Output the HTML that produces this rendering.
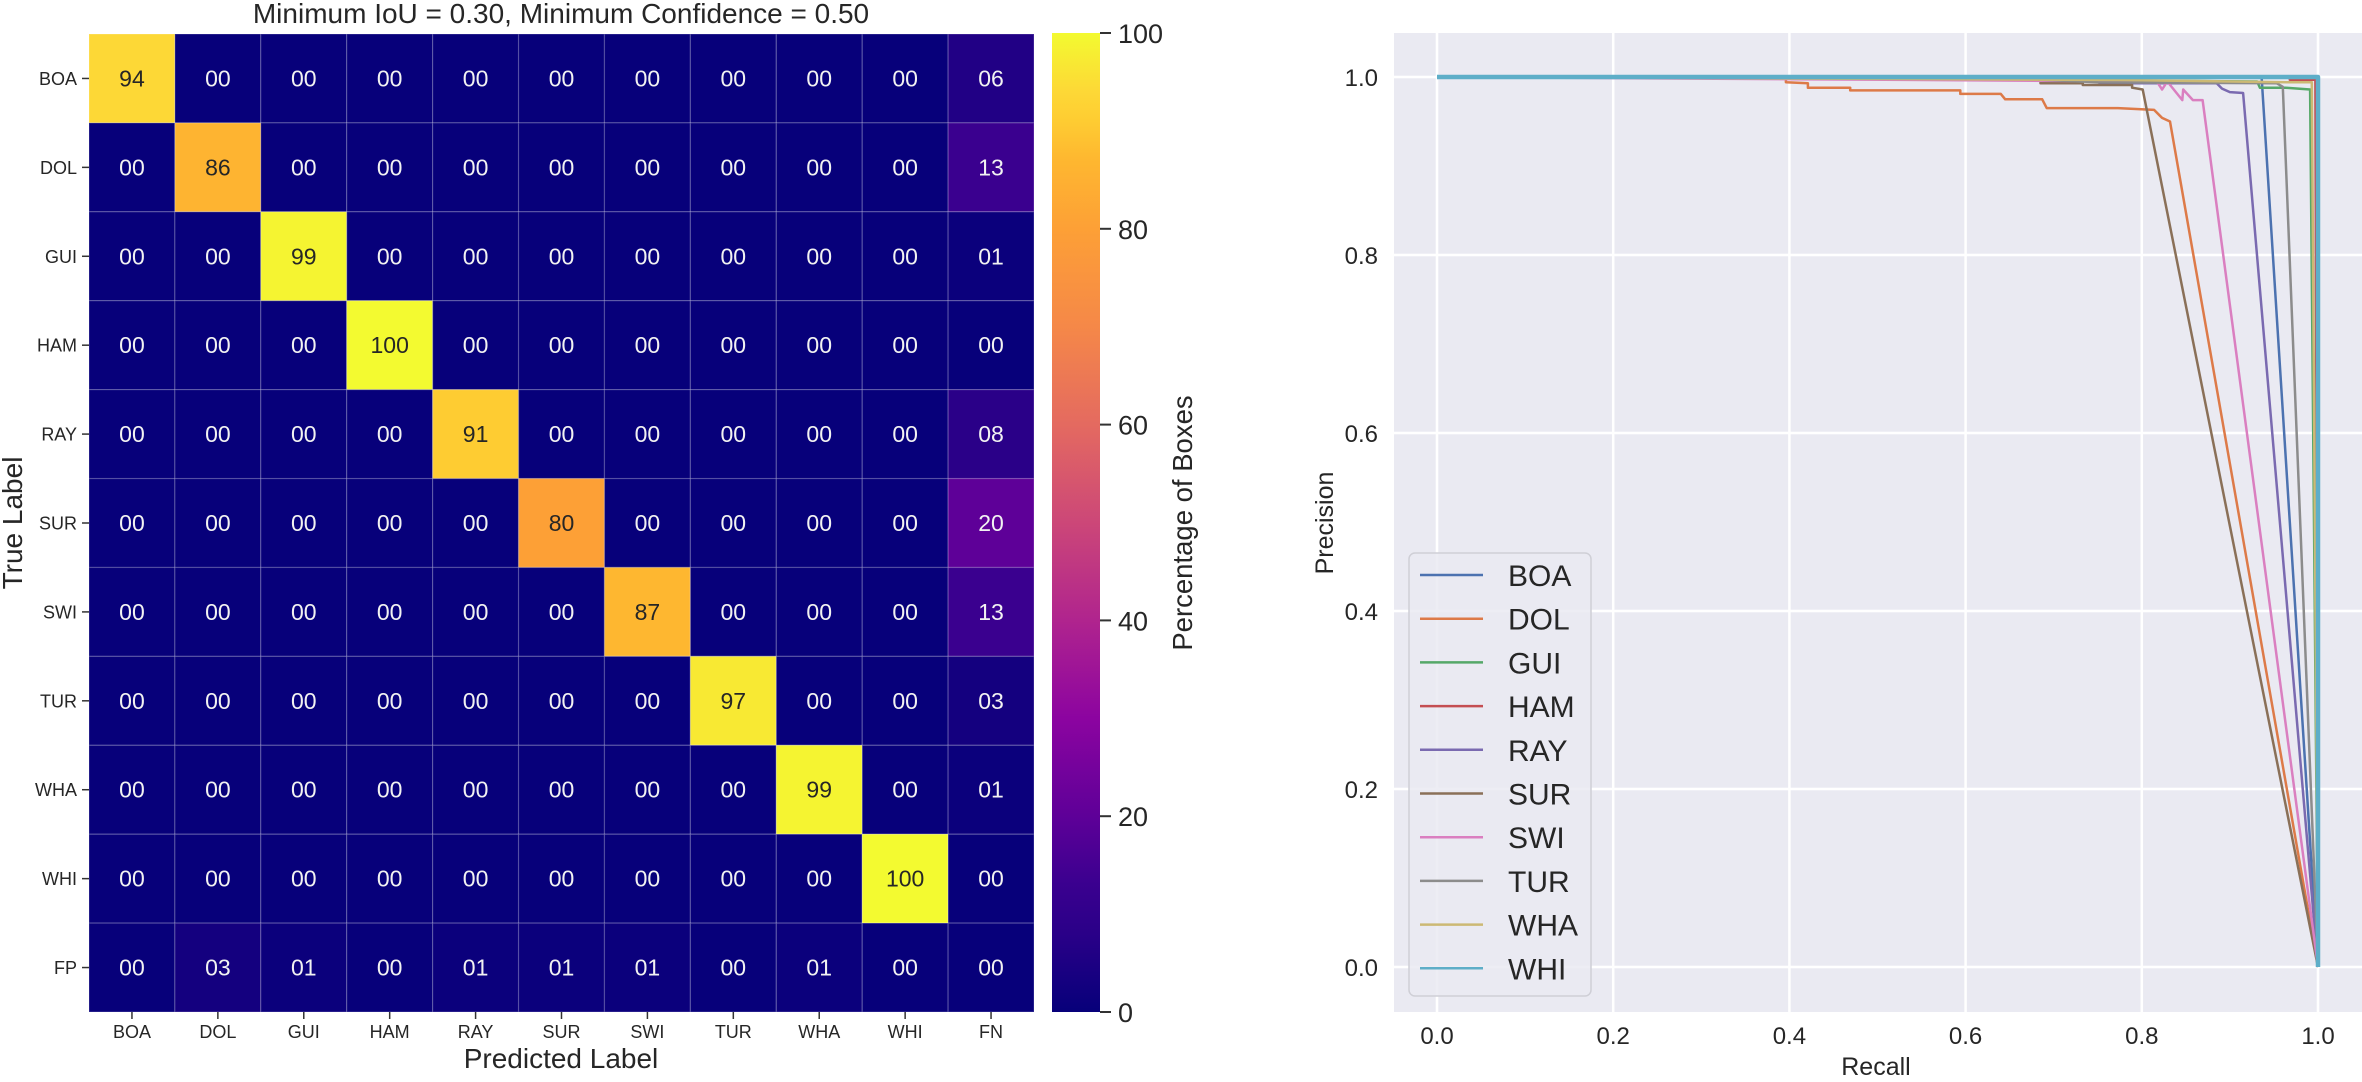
<!DOCTYPE html>
<html>
<head>
<meta charset="utf-8">
<title>Confusion matrix and precision-recall curves</title>
<style>
html,body{margin:0;padding:0;background:#fff;}
svg{display:block;font-family:"Liberation Sans",sans-serif;}
text{fill:#262626;}
</style>
</head>
<body>
<svg id="figure" width="2362" height="1082" viewBox="0 0 2362 1082" xmlns="http://www.w3.org/2000/svg">
  <defs>
    <linearGradient id="plasma-gradient" x1="0" y1="1" x2="0" y2="0"></linearGradient>
  </defs>
  <text x="561" y="23" font-size="28" text-anchor="middle">Minimum IoU = 0.30, Minimum Confidence = 0.50</text>
  <g id="heatmap"></g>
  <text x="561" y="1068" font-size="28" text-anchor="middle">Predicted Label</text>
  <text transform="translate(22,523) rotate(-90)" font-size="28" text-anchor="middle">True Label</text>
  <g id="colorbar"></g>
  <text transform="translate(1192,523) rotate(-90)" font-size="27.5" text-anchor="middle">Percentage of Boxes</text>
  <g id="pr"></g>
  <text x="1876" y="1075" font-size="25" text-anchor="middle">Recall</text>
  <text transform="translate(1333,523) rotate(-90)" font-size="25" text-anchor="middle">Precision</text>
</svg>
<script>
// ---- confusion matrix data ----
const rowLabels = ["BOA","DOL","GUI","HAM","RAY","SUR","SWI","TUR","WHA","WHI","FP"];
const colLabels = ["BOA","DOL","GUI","HAM","RAY","SUR","SWI","TUR","WHA","WHI","FN"];
const rowBOA = [94,0,0,0,0,0,0,0,0,0,6];
const rowDOL = [0,86,0,0,0,0,0,0,0,0,13];
const rowGUI = [0,0,99,0,0,0,0,0,0,0,1];
const rowHAM = [0,0,0,100,0,0,0,0,0,0,0];
const rowRAY = [0,0,0,0,91,0,0,0,0,0,8];
const rowSUR = [0,0,0,0,0,80,0,0,0,0,20];
const rowSWI = [0,0,0,0,0,0,87,0,0,0,13];
const rowTUR = [0,0,0,0,0,0,0,97,0,0,3];
const rowWHA = [0,0,0,0,0,0,0,0,99,0,1];
const rowWHI = [0,0,0,0,0,0,0,0,0,100,0];
const rowFP  = [0,3,1,0,1,1,1,0,1,0,0];
const colorbarTicks = [0,20,40,60,80,100];

// ---- precision-recall data ----
const seriesNames = ["BOA","DOL","GUI","HAM","RAY","SUR","SWI","TUR","WHA","WHI"];
const recallBOA = [0,0.936,1];
const precisionBOA = [1,1,0];
const recallDOL = [0,0.396,0.396,0.421,0.421,0.469,0.469,0.594,0.594,0.640,0.645,0.687,0.692,0.773,0.814,0.823,0.832,1];
const precisionDOL = [1,1,0.994,0.993,0.988,0.988,0.985,0.985,0.981,0.981,0.975,0.975,0.965,0.965,0.963,0.954,0.950,0];
const recallGUI = [0,0.55,0.931,0.934,0.963,0.991,1];
const precisionGUI = [1,0.998,0.995,0.988,0.988,0.986,0];
const recallHAM = [0,0.968,0.968,0.997,1];
const precisionHAM = [1,1,0.997,0.997,0];
const recallRAY = [0,0.749,0.749,0.752,0.885,0.891,0.900,0.915,1];
const precisionRAY = [1,0.999,0.997,0.993,0.993,0.987,0.983,0.982,0];
const recallSUR = [0,0.429,0.429,0.660,0.685,0.685,0.733,0.733,0.789,0.789,0.801,1];
const precisionSUR = [1,1,0.998,0.997,0.996,0.993,0.993,0.991,0.991,0.988,0.986,0];
const recallSWI = [0,0.817,0.823,0.829,0.846,0.847,0.858,0.869,1];
const precisionSWI = [1,0.995,0.986,0.995,0.974,0.986,0.974,0.974,0];
const recallTUR = [0,0.660,0.750,0.953,0.960,1];
const precisionTUR = [1,0.998,0.994,0.993,0.989,0];
const recallWHA = [0,0.781,0.965,0.993,1];
const precisionWHA = [1,0.9966,0.994,0.994,0];
const recallWHI = [0,1,1];
const precisionWHI = [1,1,0];
const xTicks = [0,0.2,0.4,0.6,0.8,1.0];
const yTicks = [0,0.2,0.4,0.6,0.8,1.0];

const NS = "http://www.w3.org/2000/svg";
function mk(parent, tag, attrs, txt){
  const el = document.createElementNS(NS, tag);
  for (const k in attrs) el.setAttribute(k, attrs[k]);
  if (txt !== undefined) el.textContent = txt;
  parent.appendChild(el);
  return el;
}

// colour map (plasma-like, matched to the reference)
const cmStops = [
  [0,7,0,122],[0.08,42,0,136],[0.13,58,0,143],[0.2,94,0,152],[0.3,140,4,160],
  [0.4,176,36,142],[0.5,204,71,120],[0.6,228,106,96],[0.7,245,136,72],
  [0.8,253,160,54],[0.87,254,183,48],[0.91,254,204,50],[0.94,253,216,54],[1,243,250,48]
];
function cmap(t){
  t = Math.max(0, Math.min(1, t));
  for (let i = 1; i < cmStops.length; i++){
    if (t <= cmStops[i][0]){
      const a = cmStops[i-1], b = cmStops[i], f = (t-a[0])/(b[0]-a[0]);
      return "rgb(" + [1,2,3].map(j => Math.round(a[j]+(b[j]-a[j])*f)).join(",") + ")";
    }
  }
  return "rgb(243,250,48)";
}

// ---- heatmap axes ----
const hmLeft = 89, hmRight = 1034, hmTop = 34, hmBottom = 1012;
const hmX = i => hmLeft + (hmRight-hmLeft)*i/colLabels.length;
const hmY = i => hmTop + (hmBottom-hmTop)*i/rowLabels.length;
const matrix = [rowBOA,rowDOL,rowGUI,rowHAM,rowRAY,rowSUR,rowSWI,rowTUR,rowWHA,rowWHI,rowFP];
const hm = document.getElementById("heatmap");

matrix.forEach((row, r) => {
  row.forEach((v, c) => {
    const cell = mk(hm, "rect", {x:hmX(c), y:hmY(r), width:hmX(c+1)-hmX(c), height:hmY(r+1)-hmY(r), fill:cmap(v/100), stroke:"rgba(255,255,255,0.2)", "stroke-width":1.2});
    
    
    const label = mk(hm, "text", {x:(hmX(c)+hmX(c+1))/2, y:(hmY(r)+hmY(r+1))/2 + 8, "font-size":23, "text-anchor":"middle", style:"fill:" + (v > 50 ? "#262626" : "#f2f2f2")}, String(v).padStart(2,"0"));
    
    
  });
});
rowLabels.forEach((name, r) => {
  const cy = (hmY(r)+hmY(r+1))/2;
  const tick = mk(hm, "line", {x1:82, x2:hmLeft, y1:cy, y2:cy, stroke:"#333", "stroke-width":1.5});
  
  
  const label = mk(hm, "text", {x:77, y:cy+6.5, "font-size":18, "text-anchor":"end"}, name);
  
  
});
colLabels.forEach((name, c) => {
  const cx = (hmX(c)+hmX(c+1))/2;
  const tick = mk(hm, "line", {x1:cx, x2:cx, y1:hmBottom, y2:hmBottom+7, stroke:"#333", "stroke-width":1.5});
  
  
  const label = mk(hm, "text", {x:cx, y:1038, "font-size":18, "text-anchor":"middle"}, name);
  
  
});

// ---- colorbar ----
const cbLeft = 1052, cbRight = 1100, cbTop = 33, cbBottom = 1012;
const cbY = v => cbBottom - (cbBottom-cbTop)*v/100;
const grad = document.getElementById("plasma-gradient");
cmStops.forEach(s => {
  mk(grad, "stop", {offset:s[0], "stop-color":"rgb(" + s[1] + "," + s[2] + "," + s[3] + ")"});
});
const cb = document.getElementById("colorbar");
const cbRect = mk(cb, "rect", {x:cbLeft, y:cbTop, width:cbRight-cbLeft, height:cbBottom-cbTop, fill:"url(#plasma-gradient)"});


colorbarTicks.forEach(v => {
  const tick = mk(cb, "line", {x1:cbRight, x2:cbRight+11, y1:cbY(v), y2:cbY(v), stroke:"#333", "stroke-width":2});
  
  
  const label = mk(cb, "text", {x:1118, y:cbY(v)+10, "font-size":27}, String(v));
  
  
});

// ---- precision-recall axes ----
const prLeft = 1394, prRight = 2362, prTop = 33, prBottom = 1012;
const prX = r => 1437 + 881*r;
const prY = p => 967 - 890*p;
const pr = document.getElementById("pr");
const prBg = mk(pr, "rect", {x:prLeft, y:prTop, width:prRight-prLeft, height:prBottom-prTop, fill:"#eaeaf2"});


xTicks.forEach(v => {
  const g = mk(pr, "line", {x1:prX(v), x2:prX(v), y1:prTop, y2:prBottom, stroke:"#fff", "stroke-width":2.5});
  
  
  const label = mk(pr, "text", {x:prX(v), y:1044, "font-size":24, "text-anchor":"middle"}, v.toFixed(1));
  
  
});
yTicks.forEach(v => {
  const g = mk(pr, "line", {x1:prLeft, x2:prRight, y1:prY(v), y2:prY(v), stroke:"#fff", "stroke-width":2.5});
  
  
  const label = mk(pr, "text", {x:1378, y:prY(v)+9, "font-size":24, "text-anchor":"end"}, v.toFixed(1));
  
  
});

const seriesRecall = [recallBOA,recallDOL,recallGUI,recallHAM,recallRAY,recallSUR,recallSWI,recallTUR,recallWHA,recallWHI];
const seriesPrecision = [precisionBOA,precisionDOL,precisionGUI,precisionHAM,precisionRAY,precisionSUR,precisionSWI,precisionTUR,precisionWHA,precisionWHI];
const seriesColors = ["#4c72b0","#dd7a48","#55a868","#c44e52","#7a6ab0","#8a7058","#da7fc0","#8c8c8c","#ccb974","#5eaec8"];
const seriesWidths = [2.5,2.5,2.5,2.5,2.5,2.5,2.5,2.5,2.5,4.5];

seriesNames.forEach((name, i) => {
  const pts = seriesRecall[i].map((r, k) => prX(r).toFixed(1) + "," + prY(seriesPrecision[i][k]).toFixed(1)).join(" ");
  const line = mk(pr, "polyline", {points:pts, fill:"none", stroke:seriesColors[i], "stroke-width":seriesWidths[i], "stroke-linejoin":"round"});
  
  
});

// ---- legend ----
const legend = mk(pr, "g", {});


const legendBox = mk(legend, "rect", {x:1409, y:553, width:182, height:443, rx:6, fill:"rgba(234,234,242,0.85)", stroke:"#cfcfd6", "stroke-width":1.5});


seriesNames.forEach((name, i) => {
  const ly = 575 + 43.7*i;
  const sw = mk(legend, "line", {x1:1420, x2:1483, y1:ly, y2:ly, stroke:seriesColors[i], "stroke-width":2.5});
  
  
  const label = mk(legend, "text", {x:1508, y:ly+11, "font-size":30}, name);
  
  
});
</script>
</body>
</html>
